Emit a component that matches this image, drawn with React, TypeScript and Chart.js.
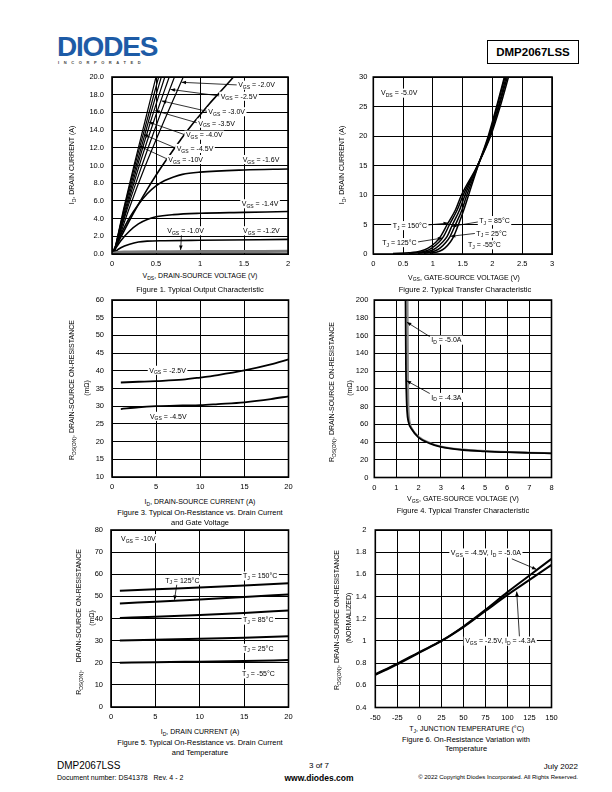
import React, { useEffect, useRef } from 'react';
import { Chart, registerables } from 'chart.js';

Chart.register(...registerables);

const FONT = '"Liberation Sans", Arial, Helvetica, sans-serif';

type Pt = [number, number];

// ---------------- Figure 1: Typical Output Characteristic ----------------
const fig1XTicks = [0, 0.5, 1, 1.5, 2];
const fig1XLabels = ['0', '0.5', '1', '1.5', '2'];
const fig1YTicks = [0, 2, 4, 6, 8, 10, 12, 14, 16, 18, 20];
const fig1YLabels = ['0.0', '2.0', '4.0', '6.0', '8.0', '10.0', '12.0', '14.0', '16.0', '18.0', '20.0'];
const fig1Vgs10: Pt[] = [[0.02, 0], [0.13, 5], [0.25, 10], [0.375, 15], [0.5, 20]];
const fig1Vgs45: Pt[] = [[0.02, 0], [0.135, 5], [0.26, 10], [0.395, 15], [0.53, 20]];
const fig1Vgs40: Pt[] = [[0.02, 0], [0.14, 5], [0.275, 10], [0.415, 15], [0.56, 20]];
const fig1Vgs35: Pt[] = [[0.02, 0], [0.15, 5], [0.29, 10], [0.44, 15], [0.6, 20]];
const fig1Vgs30: Pt[] = [[0.02, 0], [0.16, 5], [0.31, 10], [0.475, 15], [0.65, 20]];
const fig1Vgs25: Pt[] = [[0.02, 0], [0.17, 5], [0.34, 10], [0.52, 15], [0.71, 20]];
const fig1Vgs20: Pt[] = [[0.02, 0], [0.19, 5], [0.38, 10], [0.59, 15], [0.81, 20]];
const fig1Vgs18: Pt[] = [[0, 0], [0.1, 1.9], [0.2, 3.8], [0.3, 5.6], [0.4, 7.3], [0.5, 8.9], [0.6, 10.4], [0.7, 11.8], [0.8, 13.2], [0.9, 14.5], [1.0, 15.7], [1.1, 16.9], [1.2, 18.0], [1.3, 19.1], [1.38, 20]];
const fig1Vgs16: Pt[] = [[0, 0], [0.1, 2.2], [0.2, 4.1], [0.3, 5.6], [0.4, 6.8], [0.5, 7.7], [0.6, 8.3], [0.7, 8.7], [0.8, 9.0], [1.0, 9.25], [1.5, 9.5], [2.0, 9.6]];
const fig1Vgs14: Pt[] = [[0, 0], [0.1, 1.5], [0.2, 2.6], [0.3, 3.4], [0.4, 3.9], [0.5, 4.2], [0.7, 4.45], [1.0, 4.6], [1.5, 4.7], [2.0, 4.8]];
const fig1Vgs12: Pt[] = [[0, 0], [0.1, 0.7], [0.2, 1.1], [0.3, 1.35], [0.4, 1.45], [0.6, 1.5], [1.0, 1.55], [2.0, 1.65]];
const fig1Vgs10b: Pt[] = [[0, 0], [0.05, 0.15], [0.15, 0.22], [0.5, 0.25], [1.0, 0.27], [2.0, 0.3]];

// ---------------- Figure 2: Typical Transfer Characteristic ----------------
const fig2XTicks = [0, 0.5, 1, 1.5, 2, 2.5, 3];
const fig2XLabels = ['0', '0.5', '1', '1.5', '2', '2.5', '3'];
const fig2YTicks = [0, 5, 10, 15, 20, 25, 30];
const fig2YLabels = ['0', '5', '10', '15', '20', '25', '30'];
const fig2T150: Pt[] = [[0.33, 0.1], [0.6, 0.2], [0.8, 0.5], [0.92, 1], [1.05, 2], [1.13, 3], [1.24, 5], [1.38, 7.5], [1.48, 10], [1.75, 15], [1.97, 20], [2.13, 25], [2.27, 30]];
const fig2T125: Pt[] = [[0.6, 0.1], [0.75, 0.25], [0.88, 0.5], [0.98, 1], [1.1, 2], [1.18, 3], [1.28, 5], [1.41, 7.5], [1.51, 10], [1.75, 15], [1.96, 20], [2.11, 25], [2.25, 30]];
const fig2T85: Pt[] = [[0.75, 0.1], [0.95, 0.5], [1.05, 1], [1.16, 2], [1.24, 3], [1.33, 5], [1.45, 7.5], [1.54, 10], [1.75, 15], [1.95, 20], [2.1, 25], [2.23, 30]];
const fig2T25: Pt[] = [[0.85, 0.1], [1.03, 0.5], [1.12, 1], [1.22, 2], [1.29, 3], [1.38, 5], [1.49, 7.5], [1.57, 10], [1.76, 15], [1.94, 20], [2.08, 25], [2.21, 30]];
const fig2Tm55: Pt[] = [[0.95, 0.1], [1.12, 0.5], [1.2, 1], [1.29, 2], [1.35, 3], [1.43, 5], [1.52, 7.5], [1.6, 10], [1.76, 15], [1.93, 20], [2.07, 25], [2.2, 30]];

// ---------------- Figure 3: On-Resistance vs Drain Current & Gate Voltage ----------------
const fig3XTicks = [0, 5, 10, 15, 20];
const fig3XLabels = ['0', '5', '10', '15', '20'];
const fig3YTicks = [10, 15, 20, 25, 30, 35, 40, 45, 50, 55, 60];
const fig3YLabels = ['10', '15', '20', '25', '30', '35', '40', '45', '50', '55', '60'];
const fig3Vgs25: Pt[] = [[1, 36.7], [3, 36.9], [5, 37.1], [8, 37.5], [10, 38.1], [12, 38.8], [15, 40.1], [18, 41.8], [20, 43.2]];
const fig3Vgs45: Pt[] = [[1, 29.2], [3, 29.7], [5, 30.0], [8, 30.2], [10, 30.3], [12, 30.6], [15, 31.1], [18, 32.0], [20, 32.8]];

// ---------------- Figure 4: On-Resistance vs Gate-Source Voltage ----------------
const fig4XTicks = [0, 1, 2, 3, 4, 5, 6, 7, 8];
const fig4XLabels = ['0', '1', '2', '3', '4', '5', '6', '7', '8'];
const fig4YTicks = [0, 20, 40, 60, 80, 100, 120, 140, 160, 180, 200];
const fig4YLabels = ['0', '20', '40', '60', '80', '100', '120', '140', '160', '180', '200'];
const fig4Id50: Pt[] = [[1.5, 205], [1.51, 160], [1.52, 120], [1.53, 95], [1.55, 75], [1.6, 62], [1.7, 55], [2.0, 46], [2.5, 39], [3, 35], [4, 31.5], [5, 29.8], [6, 28.7], [7, 28], [8, 27.4]];
const fig4Id43: Pt[] = [[1.41, 205], [1.42, 160], [1.43, 120], [1.45, 95], [1.48, 75], [1.54, 63], [1.7, 54], [2.0, 45], [2.5, 38.5], [3, 34.5], [4, 31], [5, 29.5], [6, 28.5], [7, 27.8], [8, 27.2]];

// ---------------- Figure 5: On-Resistance vs Drain Current & Temperature ----------------
const fig5XTicks = [0, 5, 10, 15, 20];
const fig5XLabels = ['0', '5', '10', '15', '20'];
const fig5YTicks = [0, 10, 20, 30, 40, 50, 60, 70, 80];
const fig5YLabels = ['0', '10', '20', '30', '40', '50', '60', '70', '80'];
const fig5T150: Pt[] = [[1, 52.5], [5, 53.2], [10, 54.0], [15, 54.9], [20, 55.9]];
const fig5T125: Pt[] = [[1, 46.8], [5, 47.6], [10, 48.6], [15, 49.7], [20, 50.9]];
const fig5T85: Pt[] = [[1, 40.2], [5, 40.8], [10, 41.6], [15, 42.5], [20, 43.6]];
const fig5T25: Pt[] = [[1, 30.1], [5, 30.4], [10, 30.8], [15, 31.3], [20, 32.0]];
const fig5Tm55: Pt[] = [[1, 20.0], [5, 20.2], [10, 20.5], [15, 20.8], [20, 21.2]];

// ---------------- Figure 6: On-Resistance Variation with Temperature ----------------
const fig6XTicks = [-50, -25, 0, 25, 50, 75, 100, 125, 150];
const fig6XLabels = ['-50', '-25', '0', '25', '50', '75', '100', '125', '150'];
const fig6YTicks = [0.4, 0.6, 0.8, 1, 1.2, 1.4, 1.6, 1.8, 2];
const fig6YLabels = ['0.4', '0.6', '0.8', '1', '1.2', '1.4', '1.6', '1.8', '2'];
const fig6Vgs45: Pt[] = [[-50, 0.695], [-25, 0.79], [0, 0.895], [25, 1.0], [50, 1.13], [75, 1.28], [100, 1.44], [125, 1.59], [150, 1.74]];
const fig6Vgs25: Pt[] = [[-50, 0.7], [-25, 0.795], [0, 0.9], [25, 1.0], [50, 1.125], [75, 1.27], [100, 1.415], [125, 1.55], [150, 1.685]];

// ---------------- helpers ----------------
interface Series { data: Pt[]; color?: string; width?: number }
interface Label { x: number; y: number; text: string; align?: 'left' | 'center' | 'right' }
interface Arrow { x1: number; y1: number; x2: number; y2: number; head?: boolean }
interface Spec {
  left: number; top: number; w: number; h: number;
  yAxisW: number; xAxisH: number; padTop: number; padRight: number;
  xPad: number; yPad: number;
  xTicks: number[]; xLabels: string[]; yTicks: number[]; yLabels: string[];
  series: Series[]; labels: Label[]; arrows: Arrow[];
}

function parseRich(text: string): { t: string; sub: boolean }[] {
  const out: { t: string; sub: boolean }[] = [];
  const re = /_\{([^}]*)\}/g;
  let last = 0;
  let m: RegExpExecArray | null;
  while ((m = re.exec(text))) {
    if (m.index > last) out.push({ t: text.slice(last, m.index), sub: false });
    out.push({ t: m[1], sub: true });
    last = m.index + m[0].length;
  }
  if (last < text.length) out.push({ t: text.slice(last), sub: false });
  return out;
}

function drawRich(ctx: CanvasRenderingContext2D, text: string, x: number, y: number, size: number, align: string) {
  const segs = parseRich(text);
  const sub = size * 0.72;
  let w = 0;
  const widths = segs.map((s) => {
    ctx.font = `${s.sub ? sub : size}px ${FONT}`;
    const mw = ctx.measureText(s.t).width;
    w += mw;
    return mw;
  });
  let sx = align === 'center' ? x - w / 2 : align === 'right' ? x - w : x;
  ctx.fillStyle = '#fff';
  ctx.fillRect(sx - 1.5, y - size * 0.62, w + 3, size * 1.3);
  ctx.fillStyle = '#000';
  ctx.textBaseline = 'alphabetic';
  ctx.textAlign = 'left';
  const base = y + size * 0.36;
  segs.forEach((s, i) => {
    ctx.font = `${s.sub ? sub : size}px ${FONT}`;
    ctx.fillText(s.t, sx, s.sub ? base + size * 0.25 : base);
    sx += widths[i];
  });
}

function makePlugin(spec: Spec) {
  return {
    id: 'annot',
    afterDatasetsDraw(chart: any) {
      const ctx: CanvasRenderingContext2D = chart.ctx;
      const xs = chart.scales.x;
      const ys = chart.scales.y;
      const a = chart.chartArea;
      ctx.save();
      ctx.strokeStyle = '#000';
      ctx.fillStyle = '#000';
      ctx.lineWidth = 0.8;
      spec.arrows.forEach((ar) => {
        const x1 = xs.getPixelForValue(ar.x1);
        const y1 = ys.getPixelForValue(ar.y1);
        const x2 = xs.getPixelForValue(ar.x2);
        const y2 = ys.getPixelForValue(ar.y2);
        ctx.beginPath();
        ctx.moveTo(x1, y1);
        ctx.lineTo(x2, y2);
        ctx.stroke();
        if (ar.head !== false) {
          const ang = Math.atan2(y2 - y1, x2 - x1);
          const L = 4.5, W = 1.8;
          ctx.beginPath();
          ctx.moveTo(x2, y2);
          ctx.lineTo(x2 - L * Math.cos(ang) + W * Math.sin(ang), y2 - L * Math.sin(ang) - W * Math.cos(ang));
          ctx.lineTo(x2 - L * Math.cos(ang) - W * Math.sin(ang), y2 - L * Math.sin(ang) + W * Math.cos(ang));
          ctx.closePath();
          ctx.fill();
        }
      });
      spec.labels.forEach((lb) => {
        drawRich(ctx, lb.text, xs.getPixelForValue(lb.x), ys.getPixelForValue(lb.y), 7, lb.align || 'left');
      });
      ctx.strokeStyle = '#000';
      ctx.lineWidth = 1.6;
      ctx.strokeRect(a.left, a.top, a.right - a.left, a.bottom - a.top);
      ctx.restore();
    },
  };
}

function axis(ticks: number[], labels: string[], pad: number, fit: (s: any) => void) {
  return {
    type: 'linear' as const,
    min: ticks[0],
    max: ticks[ticks.length - 1],
    afterBuildTicks: (s: any) => {
      s.ticks = ticks.map((v) => ({ value: v }));
    },
    ticks: {
      callback: (_v: any, i: number) => labels[i],
      font: { family: FONT, size: 7.5 },
      color: '#000',
      padding: pad,
      autoSkip: false,
      maxRotation: 0,
      minRotation: 0,
    },
    grid: { color: '#000', lineWidth: 1, drawTicks: false },
    border: { color: '#000', width: 1 },
    afterFit: (s: any) => {
      fit(s);
      s.paddingTop = 0;
      s.paddingBottom = 0;
      s.paddingLeft = 0;
      s.paddingRight = 0;
    },
  };
}

function ChartBox({ spec }: { spec: Spec }) {
  const ref = useRef<HTMLCanvasElement>(null);
  useEffect(() => {
    const cfg: any = {
      type: 'scatter',
      data: {
        datasets: spec.series.map((s) => ({
          data: s.data.map(([x, y]) => ({ x, y })),
          showLine: true,
          borderColor: s.color || '#000',
          borderWidth: s.width || 1.5,
          pointRadius: 0,
          cubicInterpolationMode: 'monotone',
          fill: false,
        })),
      },
      options: {
        responsive: false,
        animation: false,
        devicePixelRatio: 1,
        events: [],
        layout: { padding: { left: 0, top: spec.padTop, right: spec.padRight, bottom: 0 } },
        plugins: { legend: { display: false }, tooltip: { enabled: false } },
        scales: {
          x: axis(spec.xTicks, spec.xLabels, spec.xPad, (s: any) => { s.height = spec.xAxisH; }),
          y: axis(spec.yTicks, spec.yLabels, spec.yPad, (s: any) => { s.width = spec.yAxisW; }),
        },
      },
      plugins: [makePlugin(spec)],
    };
    const c = new Chart(ref.current as HTMLCanvasElement, cfg);
    return () => c.destroy();
  }, []);
  return (
    <canvas
      ref={ref}
      width={spec.w}
      height={spec.h}
      style={{ position: 'absolute', left: spec.left, top: spec.top, width: spec.w, height: spec.h }}
    />
  );
}

function Rich({ t }: { t: string }) {
  return (
    <>
      {parseRich(t).map((s, i) =>
        s.sub ? (
          <span key={i} style={{ fontSize: '72%', position: 'relative', top: '0.3em' }}>{s.t}</span>
        ) : (
          <span key={i}>{s.t}</span>
        )
      )}
    </>
  );
}

function Txt({ x, y, s = 7, a = 'c', b = false, t, color = '#000' }: { x: number; y: number; s?: number; a?: string; b?: boolean; t: string; color?: string }) {
  const tx = a === 'c' ? '-50%' : a === 'r' ? '-100%' : '0';
  return (
    <div
      style={{
        position: 'absolute', left: x, top: y, transform: `translate(${tx}, -50%)`,
        fontFamily: FONT, fontSize: s, lineHeight: 1, whiteSpace: 'pre', fontWeight: b ? 'bold' : 'normal', color,
      }}
    >
      <Rich t={t} />
    </div>
  );
}

function VTxt({ x, y, s = 7, t }: { x: number; y: number; s?: number; t: string }) {
  return (
    <div
      style={{
        position: 'absolute', left: x, top: y, transform: 'translate(-50%, -50%) rotate(-90deg)',
        fontFamily: FONT, fontSize: s, lineHeight: 1, whiteSpace: 'pre', color: '#000',
      }}
    >
      <Rich t={t} />
    </div>
  );
}

const spec1: Spec = {
  left: 60, top: 70, w: 240, h: 200, yAxisW: 52, xAxisH: 16, padTop: 7, padRight: 12, xPad: 5, yPad: 8,
  xTicks: fig1XTicks, xLabels: fig1XLabels, yTicks: fig1YTicks, yLabels: fig1YLabels,
  series: [
    { data: fig1Vgs10b, color: '#7a7a7a', width: 3 },
    { data: fig1Vgs10, width: 1.2 },
    { data: fig1Vgs45, width: 1.2 },
    { data: fig1Vgs40, width: 1.2 },
    { data: fig1Vgs35, width: 1.2 },
    { data: fig1Vgs30, width: 1.2 },
    { data: fig1Vgs25, width: 1.2 },
    { data: fig1Vgs20, width: 1.2 },
    { data: fig1Vgs18, width: 1.6 },
    { data: fig1Vgs16, width: 1.6 },
    { data: fig1Vgs14, width: 1.6 },
    { data: fig1Vgs12, width: 1.6 },
  ],
  arrows: [
    { x1: 1.43, y1: 19.1, x2: 0.79, y2: 19.4 },
    { x1: 1.23, y1: 17.85, x2: 0.665, y2: 18.6 },
    { x1: 1.09, y1: 16.1, x2: 0.565, y2: 17.3 },
    { x1: 0.975, y1: 14.8, x2: 0.49, y2: 16.2 },
    { x1: 0.835, y1: 13.45, x2: 0.42, y2: 14.9 },
    { x1: 0.73, y1: 11.95, x2: 0.36, y2: 13.5 },
    { x1: 0.635, y1: 10.7, x2: 0.31, y2: 12.2 },
    { x1: 0.79, y1: 2.3, x2: 0.78, y2: 0.45 },
  ],
  labels: [
    { x: 1.434, y: 19.1, text: 'V_{GS} = -2.0V' },
    { x: 1.235, y: 17.85, text: 'V_{GS} = -2.5V' },
    { x: 1.095, y: 16.1, text: 'V_{GS} = -3.0V' },
    { x: 0.98, y: 14.8, text: 'V_{GS} = -3.5V' },
    { x: 0.84, y: 13.45, text: 'V_{GS} = -4.0V' },
    { x: 0.735, y: 11.95, text: 'V_{GS} = -4.5V' },
    { x: 0.64, y: 10.7, text: 'V_{GS} = -10V' },
    { x: 1.485, y: 10.7, text: 'V_{GS} = -1.6V' },
    { x: 1.474, y: 5.7, text: 'V_{GS} = -1.4V' },
    { x: 1.49, y: 2.65, text: 'V_{GS} = -1.2V' },
    { x: 0.628, y: 2.65, text: 'V_{GS} = -1.0V' },
  ],
};

const spec2: Spec = {
  left: 320, top: 70, w: 250, h: 200, yAxisW: 53.3, xAxisH: 16, padTop: 7, padRight: 18, xPad: 5.5, yPad: 6,
  xTicks: fig2XTicks, xLabels: fig2XLabels, yTicks: fig2YTicks, yLabels: fig2YLabels,
  series: [
    { data: fig2T150 }, { data: fig2T125 }, { data: fig2T85 }, { data: fig2T25 }, { data: fig2Tm55 },
  ],
  arrows: [
    { x1: 0.9, y1: 4.9, x2: 1.255, y2: 5.25 },
    { x1: 0.72, y1: 2.0, x2: 1.16, y2: 2.7 },
    { x1: 1.77, y1: 5.45, x2: 1.32, y2: 4.7 },
    { x1: 1.72, y1: 3.5, x2: 1.3, y2: 3.0 },
  ],
  labels: [
    { x: 0.13, y: 27.3, text: 'V_{DS} = -5.0V' },
    { x: 0.325, y: 4.85, text: 'T_{J} = 150°C' },
    { x: 0.15, y: 1.97, text: 'T_{J} = 125°C' },
    { x: 1.78, y: 5.7, text: 'T_{J} = 85°C' },
    { x: 1.73, y: 3.56, text: 'T_{J} = 25°C' },
    { x: 1.59, y: 1.6, text: 'T_{J} = -55°C' },
  ],
};

const spec3: Spec = {
  left: 60, top: 293, w: 240, h: 200, yAxisW: 52, xAxisH: 16, padTop: 7, padRight: 11.5, xPad: 5.5, yPad: 8,
  xTicks: fig3XTicks, xLabels: fig3XLabels, yTicks: fig3YTicks, yLabels: fig3YLabels,
  series: [{ data: fig3Vgs25, width: 1.8 }, { data: fig3Vgs45, width: 1.8 }],
  arrows: [],
  labels: [
    { x: 4.22, y: 40.2, text: 'V_{GS} = -2.5V' },
    { x: 4.3, y: 27.2, text: 'V_{GS} = -4.5V' },
  ],
};

const spec4: Spec = {
  left: 320, top: 293, w: 250, h: 200, yAxisW: 54.3, xAxisH: 15.5, padTop: 7, padRight: 18.5, xPad: 5.5, yPad: 6,
  xTicks: fig4XTicks, xLabels: fig4XLabels, yTicks: fig4YTicks, yLabels: fig4YLabels,
  series: [{ data: fig4Id43, width: 1.8 }, { data: fig4Id50, color: '#8a8a8a', width: 2 }],
  arrows: [
    { x1: 2.55, y1: 158, x2: 1.47, y2: 175 },
    { x1: 2.55, y1: 94, x2: 1.46, y2: 109 },
  ],
  labels: [
    { x: 2.57, y: 155, text: 'I_{D} = -5.0A' },
    { x: 2.57, y: 90.5, text: 'I_{D} = -4.3A' },
  ],
};

const spec5: Spec = {
  left: 60, top: 523, w: 240, h: 200, yAxisW: 51, xAxisH: 16, padTop: 7, padRight: 11.5, xPad: 5, yPad: 8,
  xTicks: fig5XTicks, xLabels: fig5XLabels, yTicks: fig5YTicks, yLabels: fig5YLabels,
  series: [
    { data: fig5T150, width: 2 }, { data: fig5T125, width: 2 }, { data: fig5T85, width: 2 },
    { data: fig5T25, width: 2 }, { data: fig5Tm55, width: 2 },
  ],
  arrows: [{ x1: 7.42, y1: 55.6, x2: 7.15, y2: 48.4 }],
  labels: [
    { x: 1.13, y: 76.2, text: 'V_{GS} = -10V' },
    { x: 14.88, y: 59.3, text: 'T_{J} = 150°C' },
    { x: 6.1, y: 57.4, text: 'T_{J} = 125°C' },
    { x: 14.88, y: 39.4, text: 'T_{J} = 85°C' },
    { x: 14.88, y: 26.6, text: 'T_{J} = 25°C' },
    { x: 14.77, y: 15.05, text: 'T_{J} = -55°C' },
  ],
};

const spec6: Spec = {
  left: 320, top: 523, w: 250, h: 200, yAxisW: 55.3, xAxisH: 15.5, padTop: 7, padRight: 18.5, xPad: 5.5, yPad: 9,
  xTicks: fig6XTicks, xLabels: fig6XLabels, yTicks: fig6YTicks, yLabels: fig6YLabels,
  series: [{ data: fig6Vgs45, width: 2 }, { data: fig6Vgs25, width: 2 }],
  arrows: [
    { x1: 105, y1: 1.74, x2: 133, y2: 1.645 },
    { x1: 113.6, y1: 1.04, x2: 110.5, y2: 1.445 },
  ],
  labels: [
    { x: 35.7, y: 1.795, text: 'V_{GS} = -4.5V, I_{D} = -5.0A' },
    { x: 52, y: 1.0, text: 'V_{GS} = -2.5V, I_{D} = -4.3A' },
  ],
};

export default function App() {
  return (
    <div style={{ position: 'absolute', left: 0, top: 0, width: 612, height: 792, background: '#fff', overflow: 'hidden' }}>
      {/* header */}
      <div style={{ position: 'absolute', left: 57, top: 33, fontFamily: FONT, fontWeight: 'bold', fontSize: 28, lineHeight: '28px', color: '#1d5ba6', letterSpacing: -1.2 }}>DIODES</div>
      <div style={{ position: 'absolute', left: 58, top: 61, fontFamily: FONT, fontWeight: 'bold', fontSize: 4, lineHeight: '4px', color: '#444', letterSpacing: 4.6 }}>INCORPORATED</div>
      <div style={{ position: 'absolute', left: 487, top: 40, width: 90, height: 22, border: '1px solid #000', fontFamily: FONT, fontWeight: 'bold', fontSize: 11.5, lineHeight: '22px', textAlign: 'center' }}>DMP2067LSS</div>

      {/* charts */}
      <ChartBox spec={spec1} />
      <ChartBox spec={spec2} />
      <ChartBox spec={spec3} />
      <ChartBox spec={spec4} />
      <ChartBox spec={spec5} />
      <ChartBox spec={spec6} />

      {/* Figure 1 texts */}
      <VTxt x={72} y={165} t="I_{D}, DRAIN CURRENT (A)" />
      <Txt x={200} y={276} t="V_{DS}, DRAIN-SOURCE VOLTAGE (V)" />
      <Txt x={200} y={289.5} s={7.5} t="Figure 1. Typical Output Characteristic" />

      {/* Figure 2 texts */}
      <VTxt x={342} y={165} t="I_{D}, DRAIN CURRENT (A)" />
      <Txt x={464} y={277.5} t="V_{GS}, GATE-SOURCE VOLTAGE (V)" />
      <Txt x={465} y={290} s={7.5} t="Figure 2. Typical Transfer Characteristic" />

      {/* Figure 3 texts */}
      <VTxt x={72} y={390} t="R_{DS(ON)}, DRAIN-SOURCE ON-RESISTANCE" />
      <VTxt x={86} y={388} t="(mΩ)" />
      <Txt x={200} y={502} t="I_{D}, DRAIN-SOURCE CURRENT (A)" />
      <Txt x={200} y={513.3} s={7.5} t="Figure 3. Typical On-Resistance vs. Drain Current" />
      <Txt x={200} y={522.7} s={7.5} t="and Gate Voltage" />

      {/* Figure 4 texts */}
      <VTxt x={332} y={392} t="R_{DS(ON)}, DRAIN-SOURCE ON-RESISTANCE" />
      <VTxt x={349} y={388} t="(mΩ)" />
      <Txt x={463} y={499.3} t="V_{GS}, GATE-SOURCE VOLTAGE (V)" />
      <Txt x={463} y={510.7} s={7.5} t="Figure 4. Typical Transfer Characteristic" />

      {/* Figure 5 texts */}
      <VTxt x={79} y={622} t="R_{DS(ON)},    DRAIN-SOURCE ON-RESISTANCE" />
      <VTxt x={91} y={618} t="(mΩ)" />
      <Txt x={200} y={732.3} t="I_{D}, DRAIN CURRENT (A)" />
      <Txt x={200} y={743.3} s={7.5} t="Figure 5. Typical On-Resistance vs. Drain Current" />
      <Txt x={200} y={752.7} s={7.5} t="and Temperature" />

      {/* Figure 6 texts */}
      <VTxt x={336.7} y={620} t="R_{DS(ON)}, DRAIN-SOURCE ON-RESISTANCE" />
      <VTxt x={348.3} y={618} t="(NORMALIZED)" />
      <Txt x={466.7} y={729.3} t="T_{J}, JUNCTION TEMPERATURE (°C)" />
      <Txt x={466} y={740} s={7.5} t="Figure 6. On-Resistance Variation with" />
      <Txt x={466} y={748.5} s={7.5} t="Temperature" />

      {/* footer */}
      <Txt x={57} y={765.5} s={10} a="l" t="DMP2067LSS" />
      <Txt x={57} y={776.5} s={7} a="l" t="Document number: DS41378   Rev. 4 - 2" />
      <Txt x={319} y={766} s={8} t="3 of 7" />
      <Txt x={319} y={777.5} s={8.5} b t="www.diodes.com" />
      <Txt x={578} y={766.5} s={8} a="r" t="July 2022" />
      <Txt x={578} y={776.5} s={6} a="r" t="© 2022 Copyright Diodes Incorporated. All Rights Reserved." />
    </div>
  );
}
